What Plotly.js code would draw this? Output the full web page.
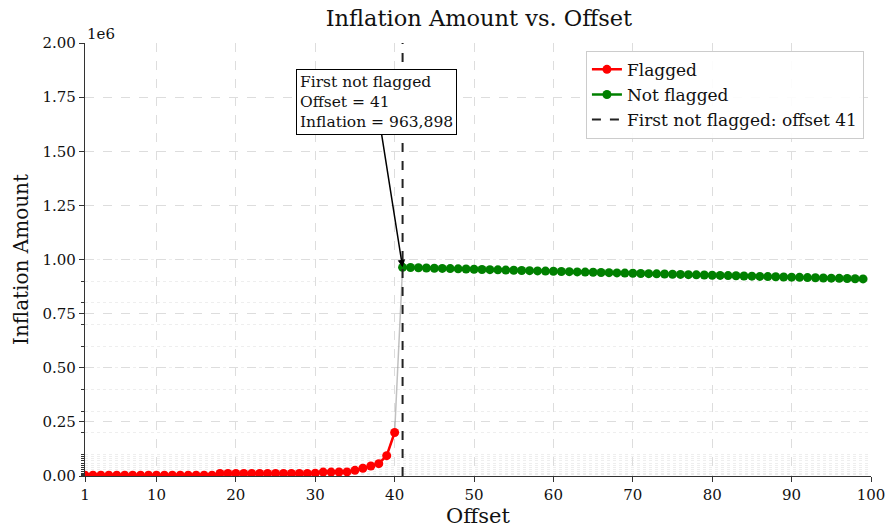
<!DOCTYPE html>
<html>
<head>
<meta charset="utf-8">
<script src="https://cdn.plot.ly/plotly-3.0.1.min.js"></script>
<style>html,body{margin:0;padding:0;background:#fff;}#chart{width:891px;height:531px;}</style>
</head>
<body>
<div id="chart"></div>
<script>
const flaggedOffsets = [1,2,3,4,5,6,7,8,9,10,11,12,13,14,15,16,17,18,19,20,21,22,23,24,25,26,27,28,29,30,31,32,33,34,35,36,37,38,39,40];
const flaggedValues = [4000,4000,4000,4000,4000,4000,4000,4000,4000,4000,4000,4000,4000,4000,4000,4000,4000,
  12000,12000,12000,12000,12000,12000,12000,12000,12000,12000,12000,12000,12500,
  18000,18000,18500,19000,26000,36000,46000,57000,94000,201000];
const notFlaggedOffsets = [41,42,43,44,45,46,47,48,49,50,51,52,53,54,55,56,57,58,59,60,61,62,63,64,65,66,67,68,69,70,71,72,73,74,75,76,77,78,79,80,81,82,83,84,85,86,87,88,89,90,91,92,93,94,95,96,97,98,99];
const notFlaggedValues = [963898,962900,961900,960900,959800,958800,957900,956900,955900,954900,
  954000,953000,952100,951100,950200,949200,948300,947400,946400,945500,
  944600,943700,942700,941800,940900,940000,939100,938200,937300,936400,
  935500,934600,933700,932800,931900,931000,930100,929200,928300,927400,
  926500,925600,924700,923800,922900,922000,921100,920200,919300,918400,
  917500,916600,915700,914800,913900,913000,912100,911200,910300];
const firstNotFlagged = 41;
const firstNotFlaggedValue = 963898;
const yTickVals = [0,250000,500000,750000,1000000,1250000,1500000,1750000,2000000];
const yTickText = ["0.00","0.25","0.50","0.75","1.00","1.25","1.50","1.75","2.00"];
const xTickVals = [1,10,20,30,40,50,60,70,80,90,100];
const yMinorVals = [1000,2000,3000,4000,5000,6000,7000,8000,9000,
  10000,20000,30000,40000,50000,60000,70000,80000,90000,
  100000,200000,300000,400000,500000,600000,700000,800000,900000,1000000,2000000];

const font = "DejaVu Serif, serif";
const allX = flaggedOffsets.concat(notFlaggedOffsets);
const allY = flaggedValues.concat(notFlaggedValues);

const traces = [
  {x: allX, y: allY, mode: 'lines', line: {color: 'rgba(150,150,150,0.6)', width: 1.5}, showlegend: false, hoverinfo: 'skip'},
  {x: flaggedOffsets, y: flaggedValues, mode: 'lines+markers', name: 'Flagged',
   line: {color: '#ff0000', width: 2.5}, marker: {color: '#ff0000', size: 9}},
  {x: notFlaggedOffsets, y: notFlaggedValues, mode: 'lines+markers', name: 'Not flagged',
   line: {color: '#008000', width: 2.5}, marker: {color: '#008000', size: 9}},
  {x: [firstNotFlagged, firstNotFlagged], y: [0, 2000000], mode: 'lines',
   name: 'First not flagged: offset ' + firstNotFlagged,
   line: {color: '#222222', width: 2, dash: 'dash'}}
];

const layout = {
  width: 891, height: 531,
  margin: {l: 85, r: 20, t: 43, b: 55},
  paper_bgcolor: '#fff', plot_bgcolor: '#fff',
  font: {family: font, size: 15, color: '#111'},
  title: {text: 'Inflation Amount vs. Offset', font: {family: font, size: 22.5, color: '#111'}, x: 0.5375, xanchor: 'center', y: 0.965, yanchor: 'middle'},
  xaxis: {
    range: [1, 100], tickmode: 'array', tickvals: xTickVals,
    showline: true, linecolor: '#333', linewidth: 1.2, mirror: false,
    ticks: 'outside', ticklen: 5, tickcolor: '#333',
    showgrid: true, gridcolor: '#dddddd', griddash: 'dash', gridwidth: 1,
    zeroline: false,
    tickfont: {family: font, size: 15, color: '#111'},
    title: {text: 'Offset', font: {family: font, size: 21, color: '#111'}, standoff: 4}
  },
  yaxis: {
    range: [0, 2000000], tickmode: 'array', tickvals: yTickVals, ticktext: yTickText,
    showline: true, linecolor: '#333', linewidth: 1.2,
    ticks: 'outside', ticklen: 5, tickcolor: '#333',
    showgrid: true, gridcolor: '#dddddd', griddash: 'dash', gridwidth: 1,
    zeroline: false,
    minor: {tickmode: 'array', tickvals: yMinorVals, ticks: 'outside', ticklen: 3, tickcolor: '#333',
            showgrid: true, gridcolor: '#eeeeee', griddash: 'dot', gridwidth: 1},
    tickfont: {family: font, size: 15, color: '#111'},
    title: {text: 'Inflation Amount', font: {family: font, size: 20, color: '#111'}, standoff: 8}
  },
  legend: {
    x: 0.991, xanchor: 'right', y: 0.982, yanchor: 'top',
    bgcolor: 'rgba(255,255,255,0.9)', bordercolor: '#cccccc', borderwidth: 1,
    font: {family: font, size: 17, color: '#111'},
    tracegroupgap: 0
  },
  annotations: [
    {xref: 'paper', yref: 'paper', x: 0, y: 1, xanchor: 'left', yanchor: 'bottom',
     text: '1e6', showarrow: false, font: {family: font, size: 15, color: '#111'}, yshift: -2},
    {x: firstNotFlagged, y: firstNotFlaggedValue, xref: 'x', yref: 'y',
     text: 'First not flagged<br>Offset = ' + firstNotFlagged + '<br>Inflation = ' + firstNotFlaggedValue.toLocaleString('en-US'),
     align: 'left', showarrow: true, arrowhead: 2, arrowsize: 1, arrowwidth: 1.5, arrowcolor: '#000',
     ax: -26, ay: -165, axref: 'pixel', ayref: 'pixel',
     bgcolor: '#fff', bordercolor: '#000', borderwidth: 1, borderpad: 3,
     font: {family: font, size: 15.5, color: '#111'}}
  ]
};

Plotly.newPlot('chart', traces, layout, {displayModeBar: false, staticPlot: true});
</script>
</body>
</html>
